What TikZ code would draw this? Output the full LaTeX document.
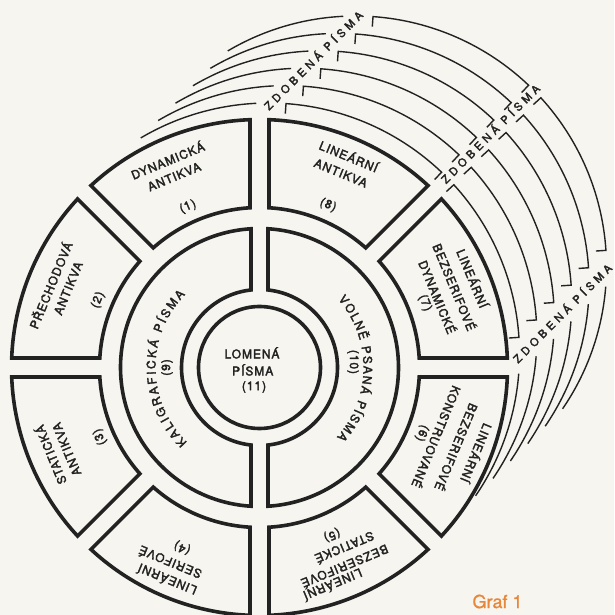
\documentclass[tikz,border=0pt]{standalone}
\usepackage{fontspec}
\usetikzlibrary{decorations.text}
\newfontfamily\lblfont[LetterSpace=8,FakeBold=2.6]{TeX Gyre Heros}
\newfontfamily\zfont[LetterSpace=36,FakeBold=2.6]{TeX Gyre Heros}
\newfontfamily\plainfont[FakeBold=2.6]{TeX Gyre Heros}
\newfontfamily\graffont[FakeBold=1]{TeX Gyre Heros}
\definecolor{paper}{RGB}{247,245,239}
\definecolor{ink}{RGB}{34,34,34}
\definecolor{graforange}{RGB}{232,134,58}
\tikzset{
 segline/.style={draw=ink, line width=3.6pt, line join=miter},
 arcline/.style={draw=ink, line width=1.4pt},
 lbl/.style={inner sep=0pt, text=ink, font=\lblfont\fontsize{12}{14}\selectfont},
 zlbl/.style={inner sep=0pt, text=ink, font=\zfont\fontsize{11}{13}\selectfont, rotate=45},
}
\newcommand\ringseg[5]{%
 \pgfmathsetmacro\rsA{#1+asin(#5/#3)}%
 \pgfmathsetmacro\rsB{#2-asin(#5/#3)}%
 \pgfmathsetmacro\rsC{#2-asin(#5/#4)}%
 \pgfmathsetmacro\rsD{#1+asin(#5/#4)}%
 \draw[segline] (\rsA:#3pt) arc[start angle=\rsA, end angle=\rsB, radius=#3pt] -- (\rsC:#4pt) arc[start angle=\rsC, end angle=\rsD, radius=#4pt] -- cycle;}
\begin{document}
\begin{tikzpicture}[x=1pt,y=1pt]
\fill[paper] (0,0) rectangle (614,615);
\useasboundingbox (0,0) rectangle (614,615);
% bracket arcs
\foreach \k in {0,...,5} {
 \begin{scope}[shift={({268.5+17.4*\k},{261+17.4*\k})}]
  \draw[arcline] (120.6:251pt) arc[start angle=120.6, end angle=92.8, radius=251pt];
  \draw[arcline] (86:241pt) -- (86:251pt) arc[start angle=86, end angle=46.4, radius=251pt] -- (46.4:241pt);
  \draw[arcline] (42.4:241pt) -- (42.4:251pt) arc[start angle=42.4, end angle=3.8, radius=251pt] -- (3.8:241pt);
  \draw[arcline] (-4.5:251pt) arc[start angle=-4.5, end angle=-34.4, radius=251pt];
 \end{scope}
}
\node[zlbl] (z1) at (313,555) {ZDOBENÁ PÍSMA};
\node[zlbl] (z2) at (490,481.5) {ZDOBENÁ PÍSMA};
\node[zlbl] (z3) at (562,302) {ZDOBENÁ PÍSMA};
\begin{scope}[shift={(259.5,247.5)}]
 \foreach \a in {0,45,...,315} {\ringseg{\a}{\a+45}{248}{160}{9.5}}
 \ringseg{90}{270}{139}{78}{8.5}
 \ringseg{-90}{90}{139}{78}{8.5}
 \draw[segline] (0,0) circle[radius=61pt];
 % middle ring arc texts
 \path[decorate, decoration={text along path, text align=fit to path, text color=ink,
   text={|\plainfont\fontsize{12}{14}\selectfont|KALIGRAFICKÁ PÍSMA}}]
   (226:104pt) arc[start angle=226, end angle=135.5, radius=104pt];
 \path[decorate, decoration={text along path, text align=fit to path, text color=ink,
   text={|\plainfont\fontsize{12}{14}\selectfont|VOLNĚ PSANÁ PÍSMA}}]
   (41:104pt) arc[start angle=41, end angle=-42, radius=104pt];
 \node[lbl, rotate=90] (t9) at (180:92.5pt) {(9)};
 \node[lbl, rotate=-90] (t10) at (3.4:93.7pt) {(10)};
 % centre
 \node[lbl] (c1) at (-7.5,14.5) {LOMENÁ};
 \node[lbl] (c2) at (-6.8,-2.5) {PÍSMA};
 \node[lbl] (c3) at (-5.5,-19.5) {(11)};
 % segment 1
 \node[lbl, rotate=22.5] (t1a) at (113.9:227pt) {DYNAMICKÁ};
 \node[lbl, rotate=22.5] (t1b) at (114.1:209pt) {ANTIKVA};
 \node[lbl, rotate=22.5] (t1c) at (114:176pt) {(1)};
 % segment 2
 \node[lbl, rotate=67.5] (t2a) at (158.5:225pt) {PŘECHODOVÁ};
 \node[lbl, rotate=67.5] (t2b) at (157.5:207pt) {ANTIKVA};
 \node[lbl, rotate=67.5] (t2c) at (157.3:175pt) {(2)};
 % segment 3
 \node[lbl, rotate=112.5] (t3a) at (202.7:227pt) {STATICKÁ};
 \node[lbl, rotate=112.5] (t3b) at (203:209.4pt) {ANTIKVA};
 \node[lbl, rotate=112.5] (t3c) at (203.5:174pt) {(3)};
 % segment 4
 \node[lbl, rotate=157.5] (t4a) at (246.5:231.8pt) {LINEÁRNÍ};
 \node[lbl, rotate=157.5] (t4b) at (245.4:215pt) {SERIFOVÉ};
 \node[lbl, rotate=157.5] (t4c) at (246.8:196pt) {(4)};
 % segment 5
 \node[lbl, rotate=202.5] (t5a) at (288.7:229.6pt) {LINEÁRNÍ};
 \node[lbl, rotate=202.5] (t5b) at (293.2:217pt) {BEZSERIFOVÉ};
 \node[lbl, rotate=202.5] (t5c) at (295.3:199.7pt) {STATICKÉ};
 \node[lbl, rotate=202.5] (t5d) at (293.4:182.5pt) {(5)};
 % segment 6
 \node[lbl, rotate=247.5] (t6a) at (338.5:233.7pt) {LINEÁRNÍ};
 \node[lbl, rotate=247.5] (t6b) at (338:212.9pt) {BEZSERIFOVÉ};
 \node[lbl, rotate=247.5] (t6c) at (338.6:190.6pt) {KONSTRUOVANÉ};
 \node[lbl, rotate=247.5] (t6d) at (338:175.2pt) {(6)};
 % segment 7
 \node[lbl, rotate=-67.5] (t7a) at (22.7:231.5pt) {LINEÁRNÍ};
 \node[lbl, rotate=-67.5] (t7b) at (22.4:211.4pt) {BEZSERIFOVÉ};
 \node[lbl, rotate=-67.5] (t7c) at (21.6:191.9pt) {DYNAMICKÉ};
 \node[lbl, rotate=-67.5] (t7d) at (21.3:177.6pt) {(7)};
 % segment 8
 \node[lbl, rotate=-22.5] (t8a) at (67.1:229.9pt) {LINEÁRNÍ};
 \node[lbl, rotate=-22.5] (t8b) at (67.3:210.8pt) {ANTIKVA};
 \node[lbl, rotate=-22.5] (t8c) at (67.1:176.3pt) {(8)};
\end{scope}
\node[inner sep=0pt, text=graforange, font=\graffont\fontsize{18}{20}\selectfont] (graf) at (497.5,13.5) {Graf 1};
\end{tikzpicture}
\end{document}
